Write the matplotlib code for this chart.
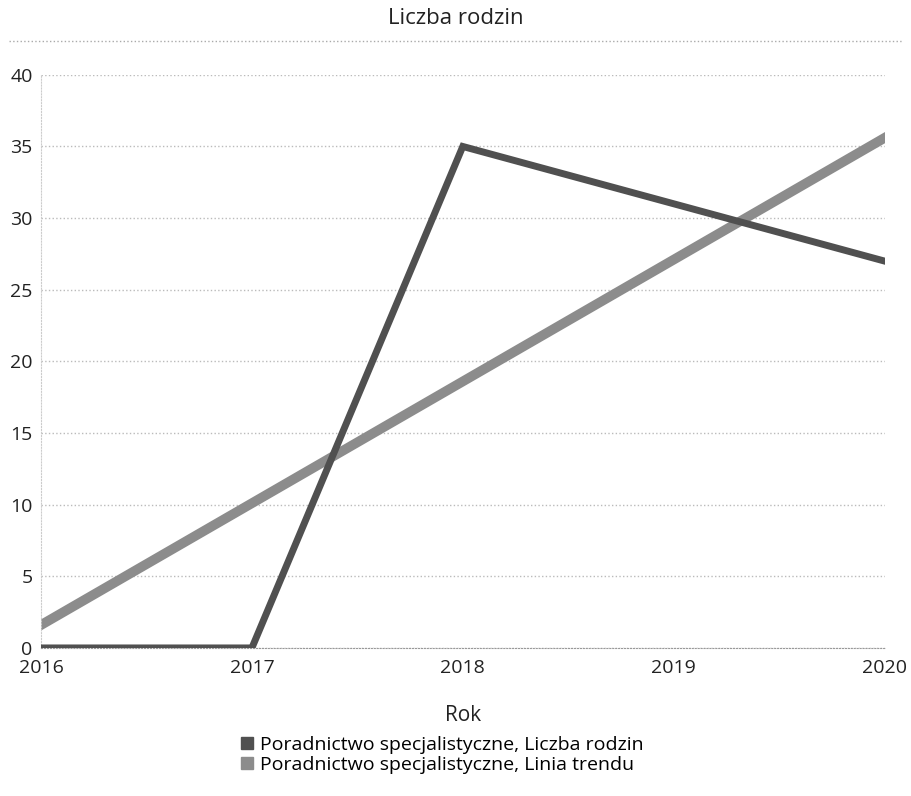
import numpy as np
import matplotlib.pyplot as plt
from matplotlib.lines import Line2D

# Dane
lata = [2016, 2017, 2018, 2019, 2020]
liczba_rodzin = [0, 0, 35, 31, 27]
seria_1 = "Poradnictwo specjalistyczne, Liczba rodzin"
seria_2 = "Poradnictwo specjalistyczne, Linia trendu"

# Linia trendu (regresja liniowa)
a, b = np.polyfit(lata, liczba_rodzin, 1)
trend = [a * x + b for x in lata]

plt.rcParams['font.family'] = ['Open Sans', 'DejaVu Sans']

fig = plt.figure(figsize=(9.11, 7.96), dpi=100)
ax = fig.add_axes([0.045, 0.186, 0.926, 0.72])

ax.plot(lata, liczba_rodzin, color="#505050", linewidth=5, zorder=3, solid_joinstyle="miter")
ax.plot(lata, trend, color="#8c8c8c", linewidth=7, zorder=2)

ax.set_xlim(2016, 2020)
ax.set_ylim(0, 40)
ax.set_xticks(lata)
ax.set_yticks(range(0, 41, 5))
ax.tick_params(length=0, labelsize=14, colors="#222222")
ax.tick_params(axis="x", pad=8)
ax.tick_params(axis="y", pad=6)
ax.grid(axis="y", color="#bbbbbb", linestyle=":", linewidth=1)
for s in ["top", "right"]:
    ax.spines[s].set_visible(False)
ax.spines["bottom"].set_color("#999999")
ax.spines["bottom"].set_linestyle(":")
ax.spines["left"].set_color("#cccccc")
ax.spines["left"].set_linestyle(":")

ax.set_xlabel("Rok", fontsize=15, labelpad=20, color="#222222")
fig.suptitle("Liczba rodzin", fontsize=16, y=0.99, color="#222222")

# kropkowana linia pod tytułem
fig.add_artist(Line2D([0.01, 0.99], [0.949, 0.949], color="#aaaaaa",
                      linestyle=":", linewidth=1))

uchwyty = [
    Line2D([], [], marker="s", linestyle="none", markersize=8, color="#505050"),
    Line2D([], [], marker="s", linestyle="none", markersize=8, color="#8c8c8c"),
]
fig.legend(uchwyty, [seria_1, seria_2], loc="upper left",
           bbox_to_anchor=(0.25, 0.085), frameon=False, fontsize=14,
           handletextpad=0.05, labelspacing=0.1, borderaxespad=0,
           handlelength=1.2)

fig.savefig("out.png", dpi=100)
